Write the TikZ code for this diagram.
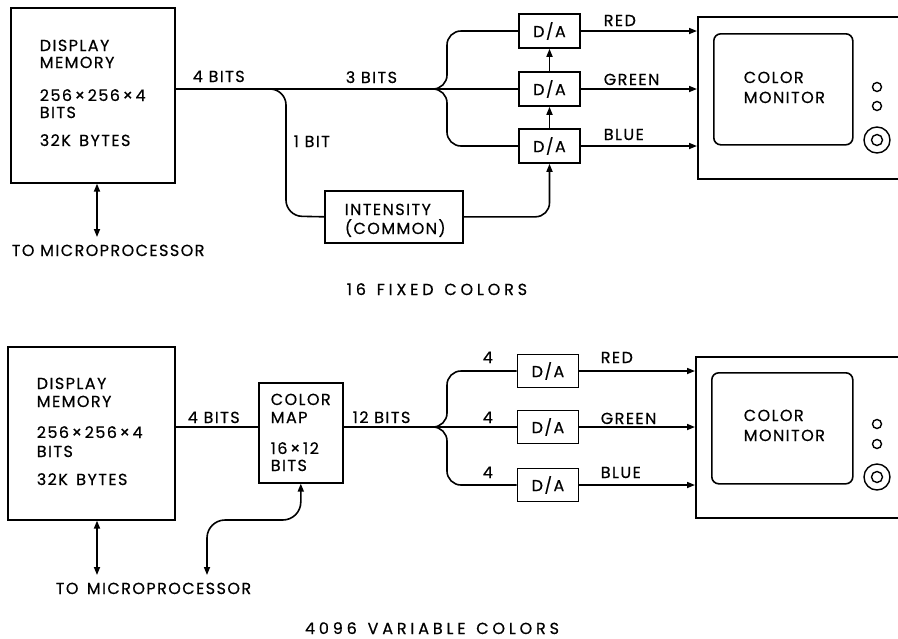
\documentclass[tikz,border=0pt]{standalone}
\usepackage{fontspec}
\setmainfont{Poppins}[LetterSpace=9, FakeBold=0.5]
\usetikzlibrary{arrows.meta}
\newcommand{\tms}{\,×\,}
\begin{document}
\begin{tikzpicture}[x=1pt,y=-1pt, line width=1.6pt,
  lblfont/.style={font=\fontsize{16}{18}\selectfont},
  box/.style={draw, inner sep=0pt, anchor=north west},
  dabox/.style={draw, inner sep=0pt, minimum width=61pt, minimum height=34pt, lblfont},
  scr/.style={draw, rounded corners=7pt, inner sep=0pt, anchor=north west},
  txt/.style={anchor=base west, inner sep=0pt, lblfont},
  ctxt/.style={anchor=base, inner sep=0pt, font=\fontsize{16}{18}\selectfont\addfontfeature{LetterSpace=24}},
  arr/.style={-{Triangle[length=8pt,width=6pt]}},
  dbl/.style={{Triangle[length=8pt,width=6pt]}-{Triangle[length=8pt,width=6pt]}},
  knob/.style={draw, circle, inner sep=0pt, line width=1.4pt}
]
\useasboundingbox (0,0) rectangle (898,638);
\clip (0,0) rectangle (898,638);

% ================= TOP DIAGRAM =================
\node[box, minimum width=164pt, minimum height=175pt] (dm1) at (10,7) {};
\node[txt] (t1a) at (39,51) {DISPLAY};
\node[txt] (t1b) at (39,68) {MEMORY};
\node[txt] (t1c) at (39,101) {256\tms256\tms4};
\node[txt] (t1d) at (39,118) {BITS};
\node[txt] (t1e) at (39,146) {32K\, BYTES};
\coordinate (mp1) at (97,237);
\draw[dbl] (dm1.south -| mp1) -- (mp1);
\node[txt] (tmp1) at (11,256) {TO MICROPROCESSOR};

\coordinate (f1) at (433,89);
\coordinate (b1) at (270,89);
\draw (dm1.east |- f1) -- (f1);
\node[txt] (l4b1) at (192,82) {4 BITS};
\node[txt] (l3b1) at (345,83) {3 BITS};
\node[txt] (l1b1) at (293,147) {1 BIT};

\node[box, minimum width=138pt, minimum height=52pt] (int) at (324,190) {};
\node[txt] (tint1) at (344,215) {INTENSITY};
\node[txt] (tint2) at (344,234) {(COMMON)};
\draw[rounded corners=16pt] (b1) -| (286,216) -- (int.west);

\node[dabox] (da1r) at (549.5,31) {D/A};
\node[dabox] (da1g) at (549.5,89) {D/A};
\node[dabox] (da1b) at (549.5,146) {D/A};
\draw[rounded corners=14pt] (f1) -| (447,31) -- (da1r.west);
\draw (f1) -- (da1g.west);
\draw[rounded corners=14pt] (f1) -| (447,146) -- (da1b.west);
\draw[arr] (da1b.north) -- (da1g.south);
\draw[arr] (da1g.north) -- (da1r.south);
\draw[arr, rounded corners=14pt] (int.east) -| (da1b.south);

\node[box, minimum width=240pt, minimum height=162pt] (mon1) at (697,16) {};
\node[scr, minimum width=139pt, minimum height=111pt] (scr1) at (713,33) {};
\node[txt] (tcm1a) at (743,83) {COLOR};
\node[txt] (tcm1b) at (743,103) {MONITOR};
\node[knob, minimum size=9pt] (k1a) at (877,87) {};
\node[knob, minimum size=9pt] (k1b) at (877,106) {};
\node[knob, minimum size=26pt] (k1c) at (877,140) {};
\node[knob, minimum size=11pt] (k1d) at (877,140) {};

\draw[arr] (da1r.east) -- (da1r.east -| mon1.west);
\draw[arr] (da1g.east) -- (da1g.east -| mon1.west);
\draw[arr] (da1b.east) -- (da1b.east -| mon1.west);
\node[txt] (tr1) at (603,26) {RED};
\node[txt] (tg1) at (603,85) {GREEN};
\node[txt] (tb1) at (603,140) {BLUE};

\node[ctxt] (cap1) at (437,295) {16\, FIXED\, COLORS};

% ================= BOTTOM DIAGRAM =================
\node[box, minimum width=167pt, minimum height=173pt] (dm2) at (7,346) {};
\node[txt] (t2a) at (36,389) {DISPLAY};
\node[txt] (t2b) at (36,407) {MEMORY};
\node[txt] (t2c) at (36,438) {256\tms256\tms4};
\node[txt] (t2d) at (36,457) {BITS};
\node[txt] (t2e) at (36,485) {32K\, BYTES};
\coordinate (mp2) at (97,575);
\draw[dbl] (dm2.south -| mp2) -- (mp2);
\node[txt] (tmp2) at (55,594) {TO\, MICROPROCESSOR};

\node[box, minimum width=84pt, minimum height=100pt] (cm) at (258,382) {};
\node[txt] (tc1) at (270,405) {COLOR};
\node[txt] (tc2) at (270,423) {MAP};
\node[txt] (tc3) at (270,454) {16\tms12};
\node[txt] (tc4) at (270,471) {BITS};
\coordinate (f2) at (435,427);
\draw (dm2.east |- f2) -- (cm.west |- f2);
\draw (cm.east |- f2) -- (f2);
\node[txt] (l4b2) at (187,423) {4 BITS};
\node[txt] (l12b) at (352,423) {12 BITS};
\coordinate (mp3) at (207,575);
\draw[dbl, rounded corners=18pt] (mp3) -- (207,520) -- (cm.south |- 0,520) -- (cm.south);

\node[dabox, minimum height=33pt] (da2r) at (548,371) {D/A};
\node[dabox, minimum height=33pt] (da2g) at (548,427) {D/A};
\node[dabox, minimum height=33pt] (da2b) at (548,485) {D/A};
\draw[rounded corners=14pt] (f2) -| (447,371) -- (da2r.west);
\draw (f2) -- (da2g.west);
\draw[rounded corners=14pt] (f2) -| (447,485) -- (da2b.west);
\node[txt] (n4a) at (482,363) {4};
\node[txt] (n4b) at (482,423) {4};
\node[txt] (n4c) at (482,478) {4};

\node[box, minimum width=240pt, minimum height=161pt] (mon2) at (695,356) {};
\node[scr, minimum width=141pt, minimum height=111pt] (scr2) at (711,372) {};
\node[txt] (tcm2a) at (743,421) {COLOR};
\node[txt] (tcm2b) at (743,441) {MONITOR};
\node[knob, minimum size=9pt] (k2a) at (877,424) {};
\node[knob, minimum size=9pt] (k2b) at (877,444) {};
\node[knob, minimum size=26pt] (k2c) at (877,477) {};
\node[knob, minimum size=11pt] (k2d) at (877,477) {};

\draw[arr] (da2r.east) -- (da2r.east -| mon2.west);
\draw[arr] (da2g.east) -- (da2g.east -| mon2.west);
\draw[arr] (da2b.east) -- (da2b.east -| mon2.west);
\node[txt] (tr2) at (600,363) {RED};
\node[txt] (tg2) at (600,424) {GREEN};
\node[txt] (tb2) at (600,478) {BLUE};

\node[ctxt] (cap2) at (432,634) {4096\, VARIABLE\, COLORS};
\end{tikzpicture}
\end{document}
